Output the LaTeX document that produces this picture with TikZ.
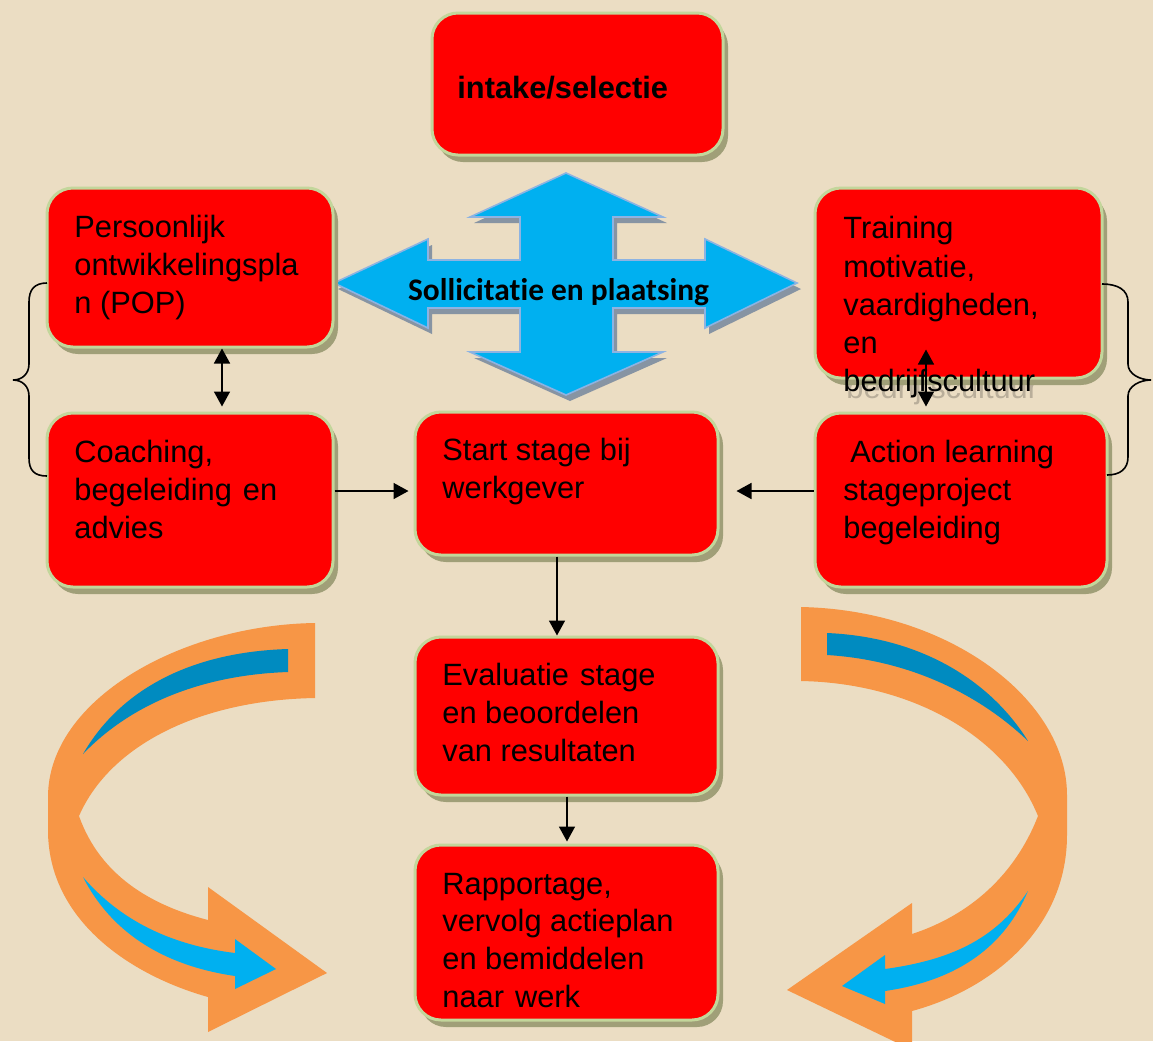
\documentclass[tikz,border=0pt]{standalone}
\usepackage{fontspec}
\setmainfont{Liberation Sans}
\newfontfamily\carlitofont[Ligatures=NoCommon]{Carlito}
\usetikzlibrary{shadows,arrows.meta,calc}
\definecolor{bgcol}{HTML}{EBDDC3}
\definecolor{boxred}{HTML}{FF0000}
\definecolor{boxedge}{HTML}{C3D69B}
\definecolor{shcol}{HTML}{A09F78}
\definecolor{orangecol}{HTML}{F79646}
\definecolor{darkblue}{HTML}{008BC0}
\definecolor{lightblue}{HTML}{00B0F0}
\definecolor{crossedge}{HTML}{8DB3E2}
\definecolor{crossshadow}{HTML}{8794A3}
\definecolor{ghost}{HTML}{B9AE9A}
\newcommand\widesp{\hspace{0.36em}}
\begin{document}
\begin{tikzpicture}[x=0.5pt,y=-0.5pt,
  rbox/.style={draw=boxedge, line width=1.5pt, fill=boxred, rounded corners=13pt,
    drop shadow={shadow xshift=2.5pt, shadow yshift=-3.5pt, fill=shcol, opacity=1},
    inner sep=0pt},
  txt/.style={inner sep=0pt, anchor=base west, font=\fontsize{15.4}{19}\selectfont, text=black},
  conn/.style={draw=black, line width=0.8pt},
  tip/.style={-{Triangle[length=7.5pt,width=8pt]}},
  dtip/.style={{Triangle[length=7.5pt,width=8pt]}-{Triangle[length=7.5pt,width=8pt]}},
  bracestyle/.style={draw=black, line width=0.8pt}
]
\useasboundingbox (0,0) rectangle (1153,1041);
\clip (0,0) rectangle (1153,1041);
\fill[bgcol] (0,0) rectangle (1153,1041);

% central four-way arrow
\coordinate (crossc) at (566,284);
\fill[crossshadow] ([shift={(4,6)}]566,173) -- ++(97,44) -- ++(-50,0) -- ++(0,43) -- ++(92,0) -- ++(0,-21) -- ++(92,44) -- ++(-92,45) -- ++(0,-20) -- ++(-92,0) -- ++(0,44) -- ++(50,0) -- ++(-97,43) -- ++(-96,-43) -- ++(50,0) -- ++(0,-44) -- ++(-92,0) -- ++(0,20) -- ++(-94,-45) -- ++(94,-44) -- ++(0,21) -- ++(92,0) -- ++(0,-43) -- ++(-50,0) -- cycle;
\path[fill=lightblue, draw=crossedge, line width=0.8pt] (566,173) -- (663,217) -- (613,217) -- (613,260) -- (705,260) -- (705,239) -- (797,283) -- (705,328) -- (705,308) -- (613,308) -- (613,352) -- (663,352) -- (566,395) -- (470,352) -- (520,352) -- (520,308) -- (428,308) -- (428,328) -- (334,283) -- (428,239) -- (428,260) -- (520,260) -- (520,217) -- (470,217) -- cycle;
\node[inner sep=0pt, anchor=base, font=\carlitofont\bfseries\fontsize{15.7}{19}\selectfont] (soll) at (558.5,300) {Sollicitatie en plaatsing};

% ghost text under training box
\node[txt, text=ghost] (ghosttxt) at (846,398) {bedrijfscultuur};

% boxes
\node[rbox, minimum width=145.5pt, minimum height=71pt] (intake) at (577.5,84) {};
\node[rbox, minimum width=143pt, minimum height=79.5pt] (pop) at (190,267.5) {};
\node[rbox, minimum width=143pt, minimum height=87pt] (coach) at (190,500) {};
\node[rbox, minimum width=143.5pt, minimum height=95pt] (train) at (958.5,283) {};
\node[rbox, minimum width=146pt, minimum height=87pt] (action) at (961,500) {};
\node[rbox, minimum width=151.5pt, minimum height=71.5pt] (start) at (566.5,483.5) {};
\node[rbox, minimum width=151.5pt, minimum height=79pt] (eval) at (566.5,716) {};
\node[rbox, minimum width=151.5pt, minimum height=87.5pt] (rapport) at (566.5,932.5) {};

% texts
\node[txt, font=\bfseries\fontsize{15.4}{19}\selectfont] (intaket) at (457,98) {intake/selectie};
\node[txt] (pop1) at (74,237) {Persoonlijk};
\node[txt] (pop2) at (74,275) {ontwikkelingspla};
\node[txt] (pop3) at (74,313) {n (POP)};
\node[txt] (coach1) at (74,462) {Coaching,};
\node[txt] (coach2) at (74,500) {begeleiding\widesp en};
\node[txt] (coach3) at (74,538) {advies};
\node[txt] (train1) at (843,238) {Training};
\node[txt] (train2) at (843,277) {motivatie,};
\node[txt] (train3) at (843,315) {vaardigheden,};
\node[txt] (train4) at (843,353) {en};
\node[txt] (train5) at (843,391) {bedrijfscultuur};
\node[txt] (action1) at (850,462) {Action learning};
\node[txt] (action2) at (843,500) {stageproject};
\node[txt] (action3) at (843,538) {begeleiding};
\node[txt] (start1) at (442,460) {Start stage bij};
\node[txt] (start2) at (442,498) {werkgever};
\node[txt] (eval1) at (442,685) {Evaluatie\widesp stage};
\node[txt] (eval2) at (442,723) {en beoordelen};
\node[txt] (eval3) at (442,761) {van resultaten};
\node[txt] (rap1) at (442,894) {Rapportage,};
\node[txt] (rap2) at (442,931) {vervolg actieplan};
\node[txt] (rap3) at (442,969) {en bemiddelen};
\node[txt] (rap4) at (442,1007) {naar\widesp werk};

% connectors
\draw[conn,dtip] ([xshift=16pt]pop.south) -- ([xshift=16pt,yshift=2.5pt]coach.north);
\draw[conn,dtip] ([xshift=-16.25pt,yshift=15pt]train.south) -- ([xshift=-17.5pt,yshift=2.5pt]action.north);
\draw[conn,tip] ([yshift=4.5pt]coach.east) -- ([yshift=-3.75pt,xshift=-2.5pt]start.west);
\draw[conn,tip] ([yshift=4.5pt]action.west) -- ([yshift=-3.75pt,xshift=8.5pt]start.east);
\draw[conn,tip] ([xshift=-4.75pt]start.south) -- ([xshift=-4.75pt]eval.north);
\draw[conn,tip] ([xshift=0.25pt]eval.south) -- ([xshift=0.25pt,yshift=1pt]rapport.north);

% braces
\coordinate (lbtop) at (47,283);
\coordinate (lbtip) at (13,380);
\coordinate (lbbot) at (47,476);
\draw[bracestyle] (lbtop) .. controls (34,283) and (29,290) .. (29,302) -- (29,364) .. controls (29,374) and (22,380) .. (lbtip) .. controls (22,380) and (29,386) .. (29,396) -- (29,458) .. controls (29,470) and (34,476) .. (lbbot);
\coordinate (rbtop) at (1102,284);
\coordinate (rbtip) at (1151,380);
\coordinate (rbbot) at (1107,475);
\draw[bracestyle] (rbtop) .. controls (1118,284) and (1128,290) .. (1128,302) -- (1128,364) .. controls (1128,374) and (1140,380) .. (rbtip) .. controls (1140,380) and (1128,386) .. (1128,396) -- (1128,457) .. controls (1128,469) and (1120,475) .. (rbbot);

% left curved arrow
\fill[orangecol] (315,623) .. controls (180,625) and (48,700) .. (48,797) -- (48,830) .. controls (48,920) and (130,975) .. (208,997) -- (208,1032) -- (327,973) -- (208,887) -- (208,920) .. controls (150,905) and (100,875) .. (79,816) .. controls (110,745) and (200,700) .. (315,698) -- cycle;
\fill[darkblue] (288,649) .. controls (190,652) and (120,690) .. (83,754) .. controls (130,705) and (200,675) .. (288,672) -- cycle;
\fill[lightblue] (83,877) .. controls (120,920) and (170,945) .. (235,953) -- (235,939) -- (276,969) -- (235,989) -- (235,976) .. controls (160,965) and (110,930) .. (83,877) -- cycle;

% right curved arrow
\fill[orangecol] (801,607) .. controls (950,610) and (1067,700) .. (1067,795) -- (1067,835) .. controls (1067,930) and (990,990) .. (912,1011) -- (912,1050) -- (787,990) -- (912,903) -- (912,934) .. controls (970,915) and (1015,875) .. (1038,816) .. controls (1005,735) and (910,683) .. (801,681) -- cycle;
\fill[darkblue] (827,633) .. controls (920,637) and (990,680) .. (1028,741) .. controls (980,695) and (910,660) .. (827,655) -- cycle;
\fill[lightblue] (1028,891) .. controls (995,940) and (950,960) .. (885,969) -- (885,955) -- (842,986) -- (885,1004) -- (885,991) .. controls (960,980) and (1005,945) .. (1028,891) -- cycle;
\end{tikzpicture}
\end{document}
